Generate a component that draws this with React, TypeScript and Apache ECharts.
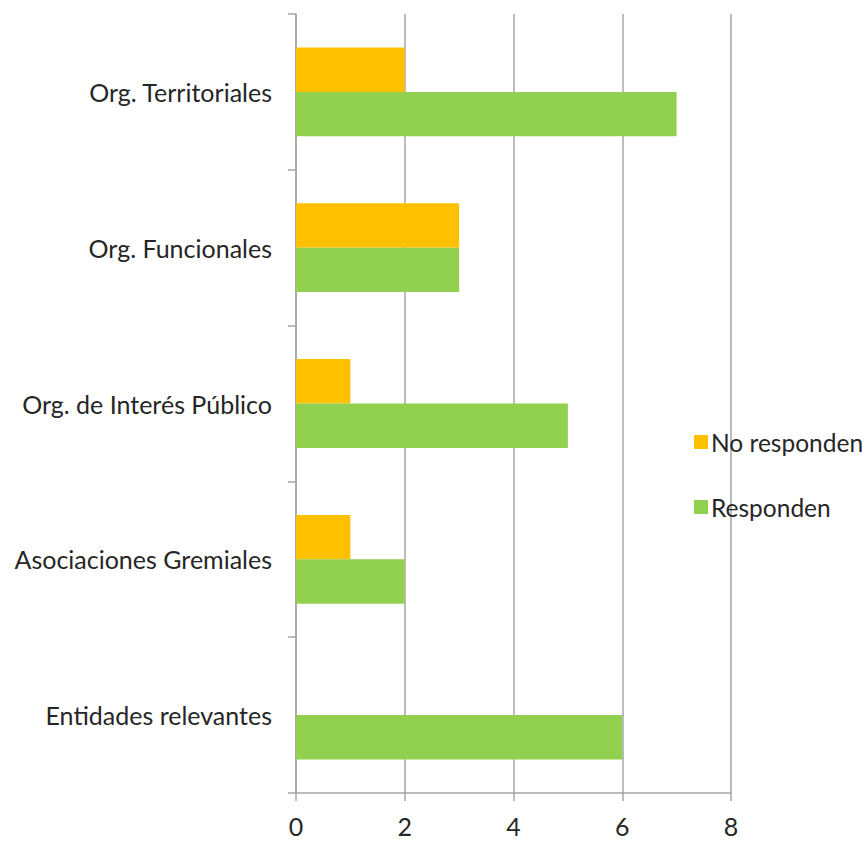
import React, { useEffect, useRef } from "react";
import * as echarts from "echarts";

const categories = [
  "Org. Territoriales",
  "Org. Funcionales",
  "Org. de Interés Público",
  "Asociaciones Gremiales",
  "Entidades relevantes",
];
const noResponden = [2, 3, 1, 1, 0];
const responden = [7, 3, 5, 2, 6];
const seriesNames = ["No responden", "Responden"];

export default function App() {
  const ref = useRef<HTMLDivElement>(null);
  useEffect(() => {
    if (!ref.current) return;
    const chart = echarts.init(ref.current, null, { renderer: "svg" });
    const font = "Lato, 'Open Sans', sans-serif";
    chart.setOption({
      animation: false,
      backgroundColor: "#ffffff",
      grid: { left: 296, right: 135, top: 14, bottom: 48, containLabel: false },
      legend: {
        orient: "vertical",
        left: 689,
        top: 424,
        icon: "rect",
        itemWidth: 14,
        itemHeight: 14,
        itemGap: 39,
        textStyle: { fontFamily: font, fontSize: 24.5, color: "#262626", lineHeight: 26, padding: [0, 0, 0, -2] },
        data: seriesNames,
      },
      xAxis: {
        type: "value",
        min: 0,
        max: 8,
        interval: 2,
        axisLine: { show: true, lineStyle: { color: "#a6a6a6", width: 1.5 } },
        axisTick: { show: true, length: 8, lineStyle: { color: "#a6a6a6", width: 1.5 } },
        splitLine: { show: true, lineStyle: { color: "#a6a6a6", width: 1.5 } },
        axisLabel: { fontFamily: font, fontSize: 25, color: "#262626", margin: 20 },
      },
      yAxis: {
        type: "category",
        inverse: true,
        data: categories,
        axisLine: { show: true, lineStyle: { color: "#a6a6a6", width: 1.5 } },
        axisTick: { show: true, length: 8, alignWithLabel: false, lineStyle: { color: "#a6a6a6", width: 1.5 } },
        axisLabel: { fontFamily: font, fontSize: 25, color: "#262626", margin: 24 },
      },
      series: [
        {
          name: seriesNames[0],
          type: "bar",
          data: noResponden,
          itemStyle: { color: "#FFC000" },
          barGap: "0%",
          barCategoryGap: "43%",
        },
        {
          name: seriesNames[1],
          type: "bar",
          data: responden,
          itemStyle: { color: "#92D050" },
          barGap: "0%",
          barCategoryGap: "43%",
        },
      ],
    });
    return () => chart.dispose();
  }, []);
  return (
    <div
      ref={ref}
      style={{ position: "absolute", left: 0, top: 0, width: 866, height: 841 }}
    />
  );
}
